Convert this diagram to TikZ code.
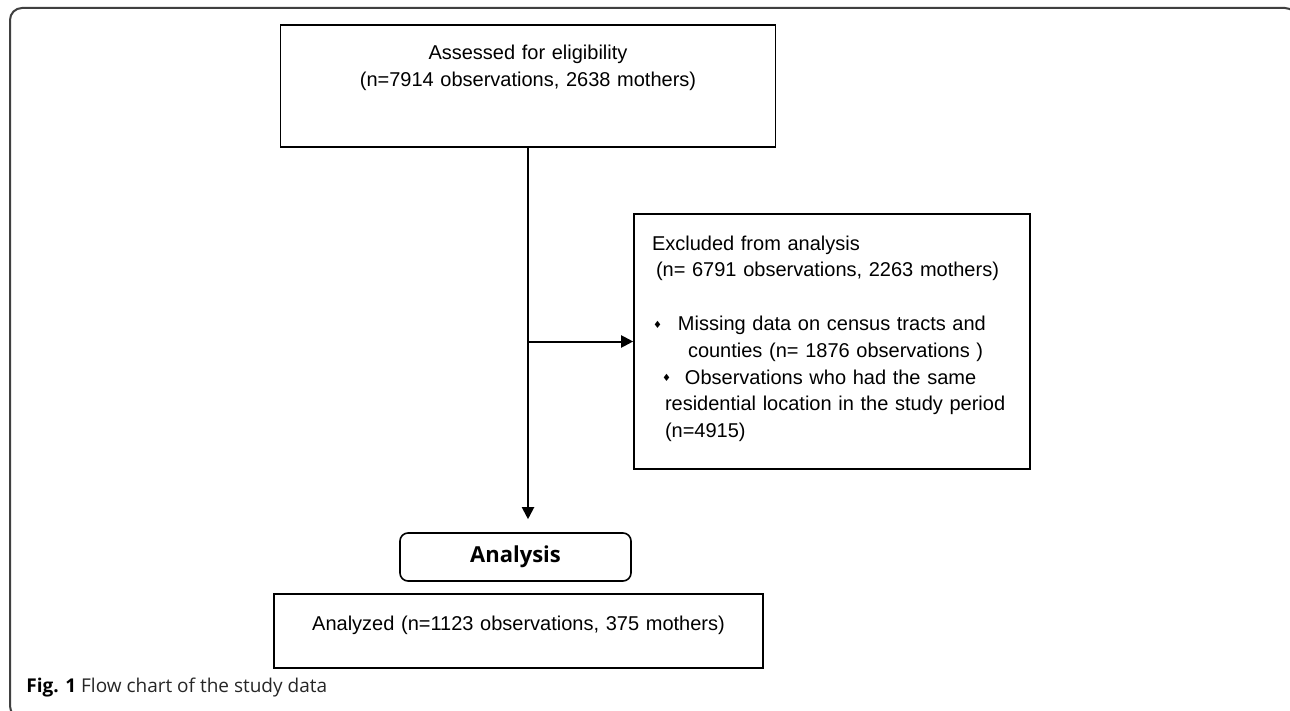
\documentclass[tikz,border=0pt]{standalone}
\usepackage{fontspec}
\setmainfont{Liberation Sans}
\newfontfamily\capfont{Open Sans}
\newfontfamily\symfont{DejaVu Sans}
\usepackage{tikz}
\usetikzlibrary{arrows.meta,positioning,calc}
\def\bul{{\symfont\fontsize{5}{5}\selectfont\raisebox{1pt}{♦}}}
\tikzstyle{box}=[draw,line width=0.8pt,inner xsep=9pt,inner ysep=0pt,font=\fontsize{10}{13.4}\selectfont]
\tikzstyle{stage}=[draw,line width=0.8pt,rounded corners=4pt,minimum width=115.5pt,minimum height=24pt,font=\capfont\bfseries\fontsize{11}{13}\selectfont]
\tikzstyle{flow}=[line width=1pt,-{Triangle[length=6pt,width=6pt]}]
\tikzstyle{frame}=[line width=1pt,black!75,rounded corners=6pt]

\begin{document}
\begin{tikzpicture}[x=0.5pt,y=-0.5pt]
    \useasboundingbox (0,0) rectangle (1290,711);
    \clip (0,0) rectangle (1290,711);
    \draw[frame] (10,8) rectangle (1297,718);
    \node[box,align=center,text width=229.5pt,text height=17.5pt,text depth=43.5pt] (assess) at (528,86)
      {Assessed for eligibility\\(n=7914 observations, 2638 mothers)};
    \node[box,align=left,text width=180pt,text height=18pt,text depth=109.5pt] (excl) at (832,341.5)
      {Excluded from analysis\\
       \hspace*{2pt}(n= 6791 observations, 2263 mothers)\\[13.4pt]
       \hspace*{0.5pt}\bul\hspace*{8pt}Missing data on census tracts and\\
       \hspace*{18pt}counties (n= 1876 observations )\\
       \hspace*{5pt}\bul\hspace*{7pt}Observations who had the same\\
       \hspace*{6.5pt}residential location in the study period\\
       \hspace*{6.5pt}(n=4915)};
    \node[stage] (analysis) at (515.5,557) {Analysis};
    \node[box,align=center,text width=226.5pt,text height=18pt,text depth=19pt] (analyzed) at (518.5,631)
      {Analyzed (n=1123 observations, 375 mothers)};
    \coordinate[yshift=6.5pt] (tip) at (assess.south |- analysis.north);
    \draw[flow] (assess.south) -- (tip);
    \draw[flow] (assess.south |- excl.west) -- (excl.west);
    \node[anchor=west,inner sep=0pt,font=\capfont\fontsize{9.5}{11}\selectfont,text=black!85] (caption) at (26,688)
      {\textbf{\color{black}Fig. 1} Flow chart of the study data};
\end{tikzpicture}
\end{document}
